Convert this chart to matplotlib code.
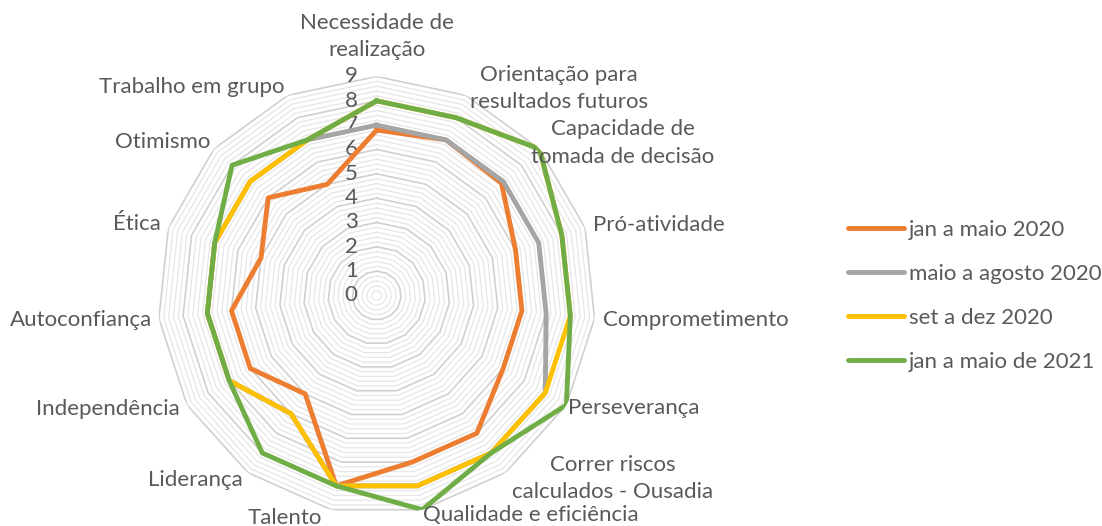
import numpy as np
import matplotlib
matplotlib.use('Agg')
import matplotlib.pyplot as plt

# categories (clockwise from the top)
categories = ['Necessidade de\nrealização', 'Orientação para\nresultados futuros',
              'Capacidade de\ntomada de decisão', 'Pró-atividade', 'Comprometimento',
              'Perseverança', 'Correr riscos\ncalculados - Ousadia', 'Qualidade e eficiência',
              'Talento', 'Liderança', 'Independência', 'Autoconfiança', 'Ética',
              'Otimismo', 'Trabalho em grupo']

series_names = ['jan a maio 2020', 'maio a agosto 2020', 'set a dez 2020', 'jan a maio de 2021']
jan_mai_2020 = [6.8, 7, 6.9, 6, 6, 6, 7, 7, 8, 5, 6, 6, 5, 6, 5]
mai_ago_2020 = [7, 7, 7, 7, 7, 8, 8, 8, 8, 6, 7, 7, 7, 7, 7]
set_dez_2020 = [8, 8, 9, 8, 8, 8, 8, 8, 8, 6, 7, 7, 7, 7, 7]
jan_mai_2021 = [8, 8, 9, 8, 8, 9, 8, 9, 8, 8, 7, 7, 7, 8, 7]
colors = ['#ED7D31', '#A5A5A5', '#FFC000', '#70AD47']

r_max = 9
text_color = '#595959'
plt.rcParams['font.family'] = ['Lato', 'DejaVu Sans']
fs = 16

n = len(categories)
angles = np.arange(n) * 2 * np.pi / n

fig = plt.figure(figsize=(11.02, 5.26), dpi=100)
ax = fig.add_axes([0.1431, 0.0219, 0.3975, 0.8327], projection='polar')
ax.set_theta_zero_location('N')
ax.set_theta_direction(-1)
ax.set_ylim(0, r_max)
ax.set_xticks([])
ax.set_yticks([])
ax.grid(False)
ax.spines['polar'].set_visible(False)
ax.patch.set_alpha(0)

# polygon grid: minor every 0.2, major every 1
closed = np.append(angles, angles[0])
for k in range(1, r_max * 5 + 1):
    r = k / 5
    if k % 5 == 0:
        ax.plot(closed, [r] * (n + 1), color='#D0D0D0', lw=1.2, zorder=1)
    else:
        ax.plot(closed, [r] * (n + 1), color='#E6E6E6', lw=0.9, zorder=1)

# value labels along the top axis
for v in range(r_max + 1):
    ax.annotate(str(v), xy=(0, v), xytext=(-19, 0), textcoords='offset pixels',
                ha='right', va='center', fontsize=fs, color=text_color)

# series
data = [jan_mai_2020, mai_ago_2020, set_dez_2020, jan_mai_2021]
for name, vals, c in zip(series_names, data, colors):
    ax.plot(closed, vals + vals[:1], color=c, lw=3.5, label=name, zorder=3)

# category labels: (ha, dx, dy) offsets in pixels from the outer vertex
label_place = [('center', 0, 40), ('left', 4, 7), ('left', -8, 6), ('left', 8, 3),
               ('left', 8, -1.5), ('left', 2, -3), ('left', 7, -6), ('left', 1, -5),
               ('right', -9, -8), ('right', -5, -7), ('right', -7, -4), ('right', -7, -1.5),
               ('right', -8, 4), ('right', -4, 7), ('right', -3, 8)]
for a, lab, (ha, dx, dy) in zip(angles, categories, label_place):
    ax.annotate(lab, xy=(a, r_max), xytext=(dx, dy), textcoords='offset pixels',
                ha=ha, va='center', multialignment='center', fontsize=fs,
                color=text_color, linespacing=1.45)

leg = fig.legend(loc='center left', bbox_to_anchor=(0.7695, 0.438), frameon=False,
                 fontsize=fs, handlelength=2.5, handletextpad=0.25, labelspacing=1.08,
                 borderpad=0, borderaxespad=0, labelcolor=text_color)
for h in leg.get_lines():
    h.set_solid_capstyle('round')
    h.set_linewidth(3.5)

fig.savefig('out.png', dpi=100)
